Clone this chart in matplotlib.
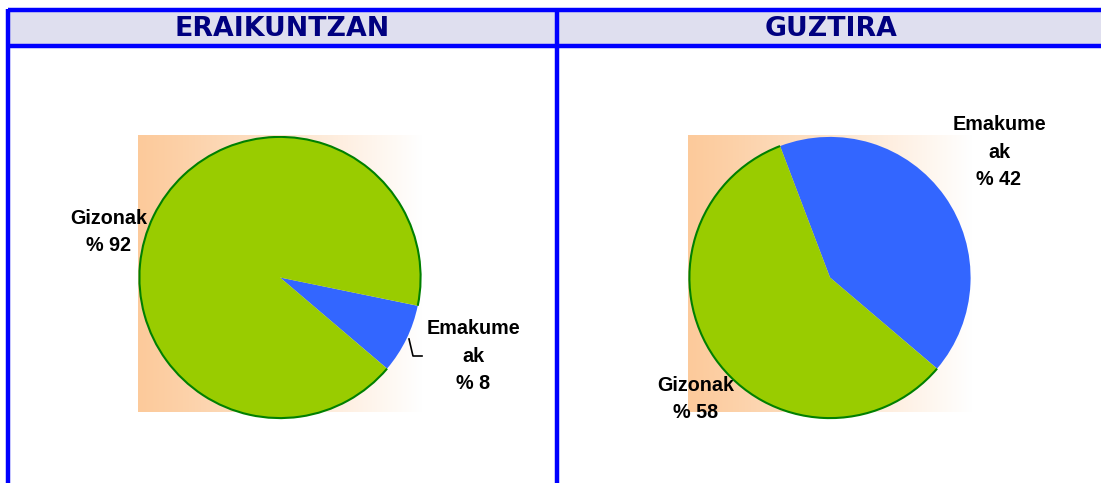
import textwrap
import numpy as np
import matplotlib
matplotlib.use("Agg")
import matplotlib.pyplot as plt
from matplotlib.patches import Arc, Rectangle

# ---- data ----
panel_titles = ["ERAIKUNTZAN", "GUZTIRA"]
categories = ["Emakumeak", "Gizonak"]
values_eraikuntzan = [8, 92]
values_guztira = [42, 58]
slice_colors = ["#3366FF", "#99CC00"]

W, H = 1101, 483
fig = plt.figure(figsize=(W / 100, H / 100), dpi=100)
bg = fig.add_axes([0, 0, 1, 1])
bg.set_xlim(0, W)
bg.set_ylim(H, 0)
bg.axis("off")

blue = "#0000FF"
# header band
bg.add_patch(Rectangle((8, 10), W - 8, 36, facecolor="#DFDFEF", edgecolor="none", zorder=1))
# border lines
bg.plot([8, W], [10, 10], color=blue, lw=3.2, solid_capstyle="butt", zorder=3)
bg.plot([8, W], [46, 46], color=blue, lw=3.2, solid_capstyle="butt", zorder=3)
bg.plot([8, 8], [8.5, H], color=blue, lw=3.2, solid_capstyle="butt", zorder=3)
bg.plot([557, 557], [8.5, H], color=blue, lw=3.2, solid_capstyle="butt", zorder=3)

title_x = [282, 831]
for tx, t in zip(title_x, panel_titles):
    bg.text(tx, 29, t, ha="center", va="center", fontsize=19.3, fontweight="bold",
            color="#000080", family="DejaVu Sans", zorder=4)

# gradient backgrounds (plot areas)
peach = np.array([252, 202, 155]) / 255.0
t = np.linspace(0, 1, 300) ** 1.1
grad = peach[None, :] * (1 - t[:, None]) + np.ones(3)[None, :] * t[:, None]
grad = grad[None, :, :]
centers = [(280, 277.5), (830, 277.5)]
R = 142
for cx, cy in centers:
    bg.imshow(grad, extent=[cx - R, cx + R, cy + 135, cy - R], aspect="auto",
              interpolation="bilinear", zorder=0)
bg.set_xlim(0, W)
bg.set_ylim(H, 0)

label_font = dict(family="Liberation Sans", fontweight="bold", fontsize=14.2,
                  color="black", ha="center", va="center", linespacing=1.55)


def make_label(cat, val):
    return "\n".join(textwrap.wrap(cat, 7, break_long_words=True)) + f"\n% {val}"


label_pos = [
    {"Emakumeak": (473, 356), "Gizonak": (109, 232)},
    {"Emakumeak": (999, 152), "Gizonak": (696, 399)},
]

for (cx, cy), vals, lp in zip(centers, [values_eraikuntzan, values_guztira], label_pos):
    ax = fig.add_axes([(cx - R) / W, (H - cy - R) / H, 2 * R / W, 2 * R / H])
    ax.axis("off")
    ax.patch.set_alpha(0)
    wedges, _ = ax.pie(vals, colors=slice_colors, startangle=-40.4, counterclock=True,
                       radius=1, wedgeprops=dict(linewidth=0), normalize=True)
    ax.set_xlim(-1.01, 1.01)
    ax.set_ylim(-1.01, 1.01)
    gw = wedges[1]
    ax.add_patch(Arc((0, 0), 2, 2, theta1=gw.theta1, theta2=gw.theta2,
                     color="#008000", lw=1.5))
    for cat, v in zip(categories, vals):
        x, y = lp[cat]
        bg.text(x, y, make_label(cat, v), zorder=5, **label_font)

# leader line for small slice in first pie
bg.plot([409, 413, 422], [339, 356, 356], color="black", lw=1.2, zorder=5)

fig.savefig("out.png", dpi=100)
